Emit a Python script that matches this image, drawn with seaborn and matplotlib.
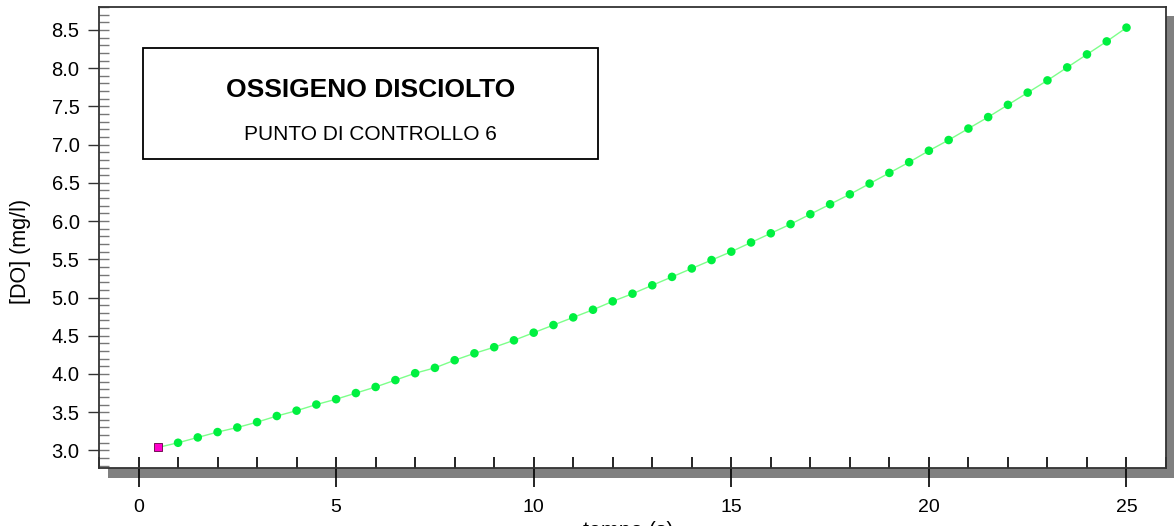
import matplotlib
matplotlib.use('Agg')
import matplotlib.pyplot as plt
import seaborn as sns
import pandas as pd
from matplotlib.patches import Rectangle
from matplotlib.ticker import MultipleLocator, FormatStrFormatter

# dati
tempo = [0.5, 1.0, 1.5, 2.0, 2.5, 3.0, 3.5, 4.0, 4.5, 5.0,
         5.5, 6.0, 6.5, 7.0, 7.5, 8.0, 8.5, 9.0, 9.5, 10.0,
         10.5, 11.0, 11.5, 12.0, 12.5, 13.0, 13.5, 14.0, 14.5, 15.0,
         15.5, 16.0, 16.5, 17.0, 17.5, 18.0, 18.5, 19.0, 19.5, 20.0,
         20.5, 21.0, 21.5, 22.0, 22.5, 23.0, 23.5, 24.0, 24.5, 25.0]
do_mg_l = [3.04, 3.10, 3.17, 3.24, 3.30, 3.37, 3.45, 3.52, 3.60, 3.67,
           3.75, 3.83, 3.92, 4.01, 4.08, 4.18, 4.27, 4.35, 4.44, 4.54,
           4.64, 4.74, 4.84, 4.95, 5.05, 5.16, 5.27, 5.38, 5.49, 5.60,
           5.72, 5.84, 5.96, 6.09, 6.22, 6.35, 6.49, 6.63, 6.77, 6.92,
           7.06, 7.21, 7.36, 7.52, 7.68, 7.84, 8.01, 8.18, 8.35, 8.53]
titolo = 'OSSIGENO DISCIOLTO'
sottotitolo = 'PUNTO DI CONTROLLO 6'

df = pd.DataFrame({'t': tempo, 'DO': do_mg_l})

sns.set_style('white')
plt.rcParams['font.family'] = ['Liberation Sans', 'DejaVu Sans']
plt.rcParams['text.color'] = 'black'
plt.rcParams['xtick.labelcolor'] = 'black'
plt.rcParams['ytick.labelcolor'] = 'black'

W, H = 1174, 526
fig = plt.figure(figsize=(W / 100, H / 100), dpi=100)
ax = fig.add_axes([99 / W, 58 / H, 1067 / W, 461 / H])
ax.set_facecolor('white')

# ombra grigia dietro il riquadro
fig.add_artist(Rectangle((108 / W, 1 - 478 / H), 1070 / W, 462 / H,
                         transform=fig.transFigure, facecolor='#808080',
                         edgecolor='none', zorder=-1))

sns.lineplot(data=df, x='t', y='DO', ax=ax, color='#7dff8a', linewidth=1.0)
sns.scatterplot(data=df.iloc[1:], x='t', y='DO', ax=ax, color='#00f040',
                s=38, edgecolor='none', zorder=3)
sns.scatterplot(data=df.iloc[:1], x='t', y='DO', ax=ax, color='#ff00cc',
                marker='s', s=40, edgecolor='#600040', linewidth=0.6, zorder=4)

ax.set_xlim(-1, 26)
ax.set_ylim(2.77, 8.80)
ax.set_xlabel('')
ax.set_ylabel('')

for s in ax.spines.values():
    s.set_color('#333333')
    s.set_linewidth(1.3)

ax.xaxis.set_major_locator(MultipleLocator(5))
ax.xaxis.set_minor_locator(MultipleLocator(1))
ax.yaxis.set_major_locator(MultipleLocator(0.5))
ax.yaxis.set_minor_locator(MultipleLocator(0.1))
ax.yaxis.set_major_formatter(FormatStrFormatter('%.1f'))
ax.xaxis.remove_overlapping_locs = False
ax.yaxis.remove_overlapping_locs = False

ax.tick_params(axis='x', which='major', direction='out', length=14, width=1.2,
               color='black', labelsize=14, pad=8, bottom=True)
ax.tick_params(axis='x', which='minor', direction='in', length=8, width=1.2,
               color='black', bottom=True)
ax.tick_params(axis='y', which='major', direction='out', length=8, width=1.0,
               color='#333333', labelsize=14.5, pad=6, left=True)
ax.tick_params(axis='y', which='minor', direction='in', length=7, width=1.0,
               color='#777777', left=True)

# riquadro del titolo
fig.add_artist(Rectangle((143 / W, 1 - 159 / H), 455 / W, 111 / H,
                         transform=fig.transFigure, facecolor='white',
                         edgecolor='black', linewidth=1.3, zorder=5))
fig.text(371 / W, 1 - 90 / H, titolo, ha='center', va='center',
         fontsize=19, fontweight='bold', zorder=6)
fig.text(370 / W, 1 - 135 / H, sottotitolo, ha='center', va='center',
         fontsize=15, zorder=6)

fig.text(21 / W, 1 - 251 / H, '[DO] (mg/l)', rotation=90, ha='center',
         va='center', fontsize=15.5)
# etichetta asse x: nell'originale è quasi tutta fuori dal bordo inferiore
fig.text(628 / W, 1 - 521 / H, 'tempo (s)', ha='center', va='top', fontsize=15.5)

fig.savefig('out.png', dpi=100)
